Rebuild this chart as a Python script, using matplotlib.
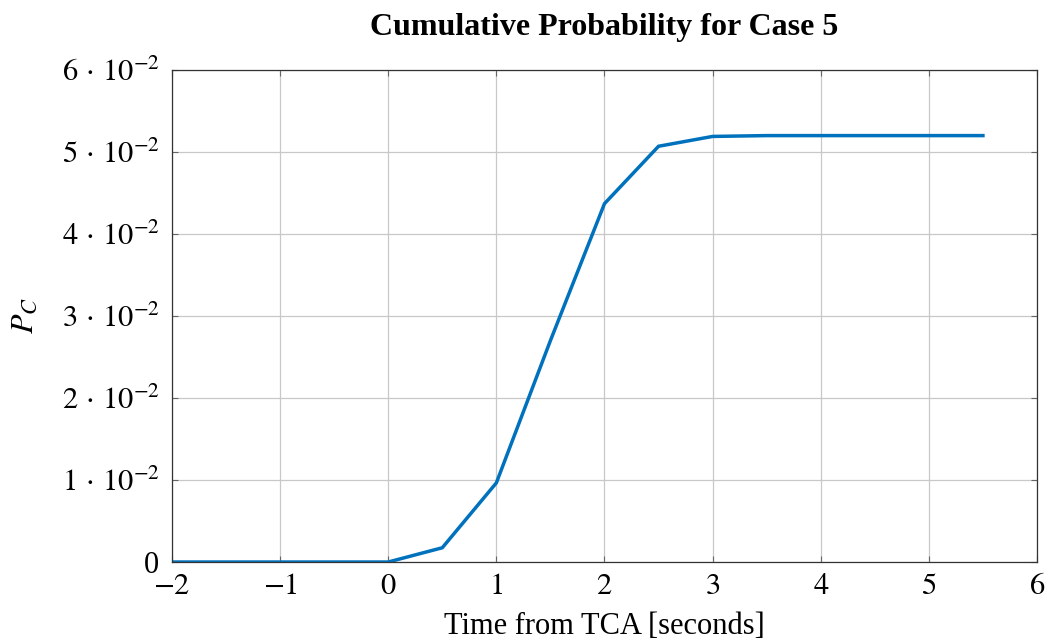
import matplotlib.pyplot as plt
from matplotlib.ticker import FuncFormatter, MultipleLocator

# Cumulative collision probability over time from TCA
time_s = [-2.0, -1.5, -1.0, -0.5, 0.0, 0.5, 1.0, 1.5, 2.0, 2.5, 3.0, 3.5, 4.0, 4.5, 5.0, 5.5]
p_c = [0.0, 0.0, 0.0, 0.0, 0.0, 0.00174, 0.00965, 0.0270, 0.0437, 0.0507, 0.0519,
       0.0520, 0.0520, 0.0520, 0.0520, 0.0520]

plt.rcParams["font.family"] = ["Liberation Serif", "DejaVu Serif"]
plt.rcParams["mathtext.fontset"] = "stix"


def sci_label(v, pos):
    n = int(round(v * 100))
    if n == 0:
        return "0"
    return r"$%d\,\cdot\,10^{-2}$" % n


def main():
    fig = plt.figure(figsize=(10.53, 6.44), dpi=100)
    ax = fig.add_axes([0.1633, 0.1273, 0.8215, 0.764])

    ax.plot(time_s, p_c, color="#0072BD", linewidth=2.5, solid_joinstyle="miter")

    ax.set_xlim(-2, 6)
    ax.set_ylim(0, 0.06)
    ax.xaxis.set_major_locator(MultipleLocator(1))
    ax.yaxis.set_major_locator(MultipleLocator(0.01))
    ax.yaxis.set_major_formatter(FuncFormatter(sci_label))
    ax.xaxis.set_major_formatter(FuncFormatter(
        lambda v, pos: r"$%d$" % int(round(v))))

    ax.grid(True, color="#c8c8c8", linewidth=0.9)
    ax.set_axisbelow(True)
    ax.tick_params(direction="in", length=4, width=0.8, color="#666666",
                   labelsize=22, top=True, right=True)
    ax.tick_params(axis="x", pad=7)
    ax.tick_params(axis="y", pad=9)
    for s in ax.spines.values():
        s.set_color("#333333")
        s.set_linewidth(0.9)

    ax.set_title("Cumulative Probability for Case 5", fontsize=23,
                 fontweight="bold", pad=25)
    ax.set_xlabel("Time from TCA [seconds]", fontsize=22, labelpad=8)
    ax.set_ylabel(r"$P_C$", fontsize=23, labelpad=16)

    fig.savefig("out.png", dpi=100)


if __name__ == "__main__":
    main()
